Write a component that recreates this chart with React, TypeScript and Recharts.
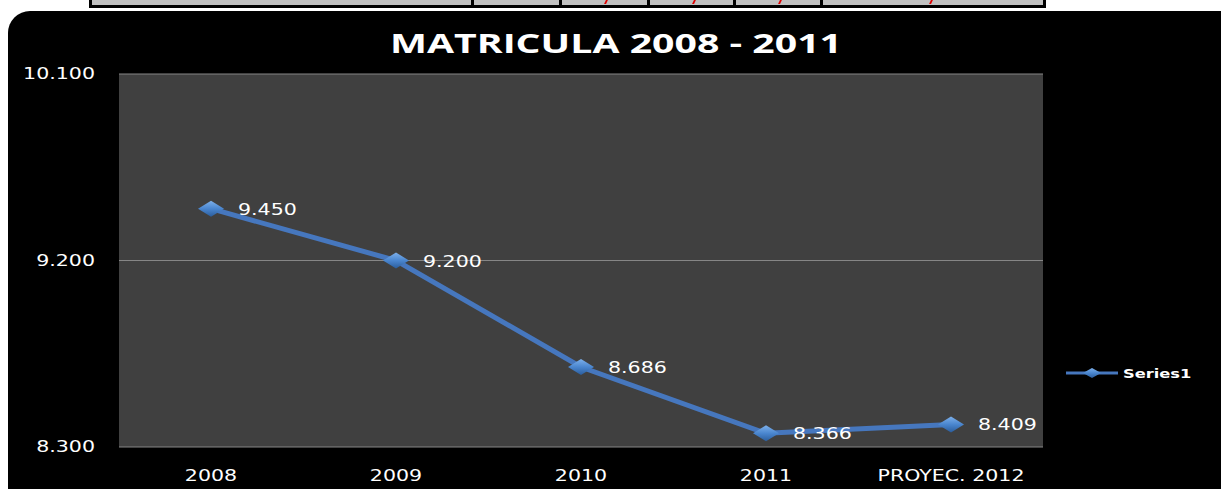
import React from 'react';
import { LineChart, Line, XAxis, YAxis, CartesianGrid, LabelList, Legend } from 'recharts';

const YEARS = ['2008', '2009', '2010', '2011', 'PROYEC. 2012'];
const MATRICULA = [9450, 9200, 8686, 8366, 8409];
const Y_TICKS = [8300, 9200, 10100];
const SERIES_NAME = 'Series1';
const TITLE = 'MATRICULA 2008 - 2011';

const PLOT_BG = '#404040';
const GRID = '#868686';
const LINE = '#4677BE';
const TEXT = '#FFFFFF';
const FONT = '"DejaVu Sans", Verdana, sans-serif';
const STRETCH = 1.37;

const data = YEARS.map((year, i) => ({ year, value: MATRICULA[i] }));

// 9450 -> "9.450"
const fmt = (v: number) => String(v).replace(/\B(?=(\d{3})+(?!\d))/g, '.');

function YTick({ x, y, payload }: any) {
  return (
    <text
      transform={`translate(${x},${y + 5}) scale(${STRETCH},1)`}
      textAnchor="end"
      fill={TEXT}
      fontFamily={FONT}
      fontSize={15}
    >
      {fmt(payload.value)}
    </text>
  );
}

function XTick({ x, y, payload }: any) {
  return (
    <text
      transform={`translate(${x},${y + 34}) scale(${STRETCH},1)`}
      textAnchor="middle"
      fill={TEXT}
      fontFamily={FONT}
      fontSize={15}
    >
      {payload.value}
    </text>
  );
}

function Diamond({ cx, cy, index, w = 13, h = 8 }: any) {
  if (cx == null || cy == null) return null;
  const id = `dia-${index}`;
  return (
    <g key={id}>
      <defs>
        <linearGradient id={id} x1="0" y1="0" x2="0" y2="1">
          <stop offset="0" stopColor="#7DB0EA" />
          <stop offset="0.5" stopColor="#4A86CF" />
          <stop offset="1" stopColor="#2B5D9C" />
        </linearGradient>
      </defs>
      <polygon
        points={`${cx - w},${cy} ${cx},${cy - h} ${cx + w},${cy} ${cx},${cy + h}`}
        fill={`url(#${id})`}
      />
    </g>
  );
}

function ValueLabel(props: any) {
  const { x, y, value } = props;
  return (
    <text
      transform={`translate(${x + 27},${y + 6}) scale(${STRETCH},1)`}
      fill={TEXT}
      fontFamily={FONT}
      fontSize={15}
    >
      {fmt(value)}
    </text>
  );
}

function LegendContent() {
  return (
    <svg width={150} height={24} style={{ display: 'block' }}>
      <line x1={6} y1={12} x2={58} y2={12} stroke={LINE} strokeWidth={3} />
      <Diamond cx={32} cy={12} index="legend" w={9} h={5} />
      <text
        transform={`translate(63,17) scale(1.25,1)`}
        fill={TEXT}
        fontFamily={FONT}
        fontWeight="bold"
        fontSize={13}
      >
        {SERIES_NAME}
      </text>
    </svg>
  );
}

// cells of the table cut off above the chart
const CELLS = [
  [92, 471],
  [474, 559],
  [562, 647],
  [650, 733],
  [736, 820],
  [823, 1043],
];
const RED_MARKS = [605, 693, 779, 930];

export default function App() {
  return (
    <div
      style={{
        position: 'absolute',
        left: 0,
        top: 0,
        width: 1221,
        height: 489,
        background: '#fff',
        overflow: 'hidden',
      }}
    >
      {/* table strip */}
      <div style={{ position: 'absolute', left: 89, top: 0, width: 957, height: 8, background: '#000' }} />
      {CELLS.map(([a, b]) => (
        <div
          key={a}
          style={{ position: 'absolute', left: a, top: 0, width: b - a, height: 5, background: '#C0C0C0' }}
        />
      ))}
      {RED_MARKS.map((x) => (
        <div
          key={x}
          style={{
            position: 'absolute',
            left: x,
            top: 0,
            width: 2,
            height: 4,
            background: '#E00000',
            transform: 'skewX(-25deg)',
          }}
        />
      ))}

      {/* chart card */}
      <div
        style={{
          position: 'absolute',
          left: 8,
          top: 11,
          width: 1240,
          height: 500,
          background: '#000',
          borderRadius: 22,
        }}
      />
      <svg width={1221} height={70} style={{ position: 'absolute', left: 0, top: 0 }}>
        <text
          x={390}
          y={53}
          textLength={452}
          lengthAdjust="spacingAndGlyphs"
          fill={TEXT}
          fontFamily='"Open Sans", sans-serif'
          fontWeight="bold"
          fontSize={26}
        >
          {TITLE}
        </text>
      </svg>

      <div style={{ position: 'absolute', left: 0, top: 0 }}>
        <LineChart
          width={1221}
          height={489}
          data={data}
          margin={{ top: 74, right: 178, bottom: 0, left: 19 }}
        >
          <CartesianGrid vertical={false} stroke={GRID} fill={PLOT_BG} />
          <XAxis
            dataKey="year"
            height={42}
            padding={{ left: 92, right: 92 }}
            axisLine={false}
            tickLine={false}
            tickSize={0}
            tickMargin={0}
            interval={0}
            tick={<XTick />}
          />
          <YAxis
            width={100}
            domain={[8300, 10100]}
            ticks={Y_TICKS}
            interval={0}
            axisLine={false}
            tickLine={false}
            tickSize={0}
            tickMargin={24}
            tick={<YTick />}
          />
          <Legend
            layout="vertical"
            align="center"
            verticalAlign="middle"
            content={<LegendContent />}
            wrapperStyle={{ position: 'absolute', left: 1060, top: 361, width: 150, height: 24 }}
          />
          <Line
            type="linear"
            dataKey="value"
            name={SERIES_NAME}
            stroke={LINE}
            strokeWidth={5}
            dot={(p: any) => <Diamond key={`d${p.index}`} {...p} />}
            activeDot={false}
            isAnimationActive={false}
          >
            <LabelList dataKey="value" content={<ValueLabel />} />
          </Line>
        </LineChart>
      </div>
    </div>
  );
}
